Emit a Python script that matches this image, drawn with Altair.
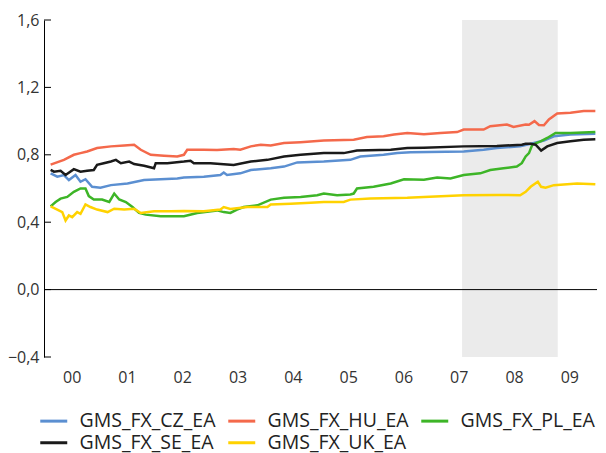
import altair as alt
import pandas as pd

series_names = ["GMS_FX_CZ_EA", "GMS_FX_HU_EA", "GMS_FX_PL_EA", "GMS_FX_SE_EA", "GMS_FX_UK_EA"]
series_colors = ["#5B8FD1", "#F4694B", "#3DB527", "#1A1A1A", "#FFD200"]

cz_t = [2000.12, 2000.24, 2000.36, 2000.45, 2000.57, 2000.66, 2000.75, 2000.87, 2001.02, 2001.21,
        2001.51, 2001.81, 2002.11, 2002.41, 2002.53, 2002.89, 2003.19, 2003.25, 2003.31, 2003.55,
        2003.74, 2004.10, 2004.34, 2004.58, 2004.82, 2005.06, 2005.54, 2005.72, 2006.14, 2006.39,
        2006.63, 2007.59, 2007.95, 2008.19, 2008.61, 2008.86, 2009.04, 2009.22, 2009.52, 2009.97]
cz_v = [0.69, 0.67, 0.68, 0.65, 0.68, 0.64, 0.655, 0.61, 0.605, 0.62,
        0.63, 0.65, 0.655, 0.66, 0.665, 0.67, 0.68, 0.695, 0.68, 0.69,
        0.71, 0.72, 0.73, 0.755, 0.758, 0.76, 0.77, 0.79, 0.80, 0.81,
        0.815, 0.82, 0.83, 0.84, 0.85, 0.87, 0.885, 0.91, 0.92, 0.925]

hu_t = [2000.12, 2000.36, 2000.54, 2000.66, 2000.78, 2000.96, 2001.21, 2001.45, 2001.63, 2001.75,
        2001.93, 2002.17, 2002.41, 2002.53, 2002.59, 2002.89, 2003.13, 2003.43, 2003.55, 2003.74,
        2003.92, 2004.10, 2004.34, 2004.64, 2005.06, 2005.60, 2005.84, 2006.14, 2006.33, 2006.57,
        2006.87, 2007.17, 2007.47, 2007.59, 2007.95, 2008.07, 2008.37, 2008.49, 2008.71, 2008.77,
        2008.87, 2008.95, 2009.04, 2009.13, 2009.28, 2009.52, 2009.76, 2009.97]
hu_v = [0.742, 0.77, 0.80, 0.81, 0.82, 0.84, 0.85, 0.855, 0.86, 0.83,
        0.80, 0.795, 0.79, 0.80, 0.83, 0.83, 0.828, 0.835, 0.83, 0.85,
        0.86, 0.855, 0.87, 0.875, 0.885, 0.89, 0.905, 0.91, 0.92, 0.93,
        0.922, 0.93, 0.935, 0.95, 0.95, 0.97, 0.98, 0.965, 0.98, 0.978,
        1.0, 0.977, 0.975, 1.01, 1.045, 1.05, 1.06, 1.06]

pl_t = [2000.12, 2000.21, 2000.30, 2000.42, 2000.54, 2000.66, 2000.75, 2000.81, 2000.90, 2001.05,
        2001.18, 2001.27, 2001.36, 2001.48, 2001.60, 2001.72, 2001.84, 2002.11, 2002.35, 2002.53,
        2002.77, 2003.13, 2003.25, 2003.37, 2003.49, 2003.61, 2003.86, 2004.10, 2004.34, 2004.64,
        2004.94, 2005.06, 2005.30, 2005.54, 2005.60, 2005.66, 2005.96, 2006.27, 2006.51, 2006.87,
        2007.11, 2007.35, 2007.59, 2007.89, 2008.07, 2008.31, 2008.55, 2008.64, 2008.71, 2008.77,
        2008.83, 2008.98, 2009.10, 2009.25, 2009.52, 2009.97]
pl_v = [0.494, 0.52, 0.54, 0.55, 0.58, 0.60, 0.60, 0.555, 0.535, 0.535,
        0.52, 0.57, 0.535, 0.52, 0.49, 0.455, 0.445, 0.435, 0.435, 0.435,
        0.455, 0.47, 0.46, 0.455, 0.475, 0.49, 0.50, 0.534, 0.545, 0.55,
        0.56, 0.57, 0.56, 0.565, 0.57, 0.60, 0.61, 0.63, 0.655, 0.652,
        0.665, 0.66, 0.68, 0.69, 0.71, 0.72, 0.73, 0.75, 0.79, 0.81,
        0.86, 0.88, 0.90, 0.93, 0.93, 0.935]

se_t = [2000.12, 2000.18, 2000.30, 2000.39, 2000.54, 2000.66, 2000.78, 2000.90, 2000.96, 2001.08,
        2001.21, 2001.30, 2001.39, 2001.54, 2001.63, 2001.81, 2001.99, 2002.02, 2002.23, 2002.53,
        2002.65, 2002.71, 2003.01, 2003.43, 2003.74, 2004.04, 2004.34, 2004.64, 2005.06, 2005.42,
        2005.66, 2006.27, 2006.57, 2006.87, 2007.59, 2008.19, 2008.64, 2008.71, 2008.80, 2008.89,
        2008.99, 2009.10, 2009.28, 2009.52, 2009.76, 2009.97]
se_v = [0.71, 0.70, 0.705, 0.68, 0.715, 0.70, 0.705, 0.71, 0.74, 0.75,
        0.76, 0.77, 0.75, 0.76, 0.745, 0.735, 0.72, 0.75, 0.75, 0.76,
        0.765, 0.75, 0.75, 0.74, 0.76, 0.77, 0.79, 0.80, 0.81, 0.81,
        0.825, 0.83, 0.84, 0.842, 0.85, 0.852, 0.86, 0.865, 0.865, 0.86,
        0.825, 0.85, 0.87, 0.88, 0.89, 0.892]

uk_t = [2000.12, 2000.24, 2000.33, 2000.39, 2000.45, 2000.51, 2000.60, 2000.66, 2000.75, 2000.84,
        2000.96, 2001.15, 2001.27, 2001.45, 2001.63, 2001.75, 2001.99, 2002.29, 2002.53, 2002.89,
        2003.19, 2003.25, 2003.37, 2003.68, 2004.04, 2004.10, 2004.46, 2004.82, 2005.06, 2005.42,
        2005.54, 2005.90, 2006.57, 2006.87, 2007.59, 2008.19, 2008.61, 2008.71, 2008.80, 2008.93,
        2008.99, 2009.07, 2009.22, 2009.46, 2009.64, 2009.97]
uk_v = [0.494, 0.475, 0.46, 0.41, 0.44, 0.43, 0.46, 0.45, 0.505, 0.49,
        0.475, 0.46, 0.48, 0.475, 0.48, 0.455, 0.465, 0.465, 0.467, 0.465,
        0.475, 0.49, 0.478, 0.49, 0.49, 0.505, 0.51, 0.515, 0.52, 0.52,
        0.534, 0.54, 0.545, 0.55, 0.56, 0.562, 0.56, 0.58, 0.61, 0.64,
        0.61, 0.605, 0.62, 0.625, 0.63, 0.625]

y_ticks = [-0.4, 0.0, 0.4, 0.8, 1.2, 1.6]
x_ticks = [2000.5, 2001.5, 2002.5, 2003.5, 2004.5, 2005.5, 2006.5, 2007.5, 2008.5, 2009.5]
shade_start = [2007.56]
shade_end = [2009.29]

series_t = [cz_t, hu_t, pl_t, se_t, uk_t]
series_v = [cz_v, hu_v, pl_v, se_v, uk_v]
rows = []
for name, ts, vs in zip(series_names, series_t, series_v):
    for t, v in zip(ts, vs):
        rows.append({"series": name, "t": t, "v": v})
df = pd.DataFrame(rows)

FONT = "Open Sans"
x_scale = alt.Scale(domain=[2000, 2010], nice=False, zero=False)
y_scale = alt.Scale(domain=[-0.4, 1.6], nice=False, zero=False)
x_axis = alt.Axis(values=x_ticks, labelExpr="substring(toString(floor(datum.value)), 2)",
                  domain=False, ticks=False, grid=False, title=None, labelFont=FONT,
                  labelFontSize=16, labelColor="#333333", labelPadding=12)
y_axis = alt.Axis(values=y_ticks, labelExpr="replace(format(datum.value, '.1f'), '.', ',')",
                  domain=True, domainColor="black", ticks=False,
                  grid=False, title=None, labelFont=FONT, labelFontSize=16,
                  labelColor="#333333", labelPadding=5)

shade = alt.Chart(pd.DataFrame({"x": shade_start, "x2": shade_end})).mark_rect(
    color="#EBEBEB").encode(
    x=alt.X("x:Q", scale=x_scale, axis=x_axis),
    x2="x2:Q",
    y=alt.Y(datum=-0.4, scale=y_scale, axis=y_axis),
    y2=alt.datum(1.6),
)

zero = alt.Chart(pd.DataFrame({"z": [0.0]})).mark_rule(color="black", strokeWidth=1).encode(
    y=alt.Y("z:Q", scale=y_scale, axis=y_axis)
)

# inward-pointing y ticks
yticks = alt.Chart(pd.DataFrame({"tick": y_ticks})).mark_rule(color="black", strokeWidth=1).encode(
    y=alt.Y("tick:Q", scale=y_scale, axis=y_axis),
    x=alt.value(0),
    x2=alt.value(7),
)

lines = alt.Chart(df).mark_line(strokeWidth=2.5).encode(
    x=alt.X("t:Q", scale=x_scale, axis=x_axis),
    y=alt.Y("v:Q", scale=y_scale, axis=y_axis),
    color=alt.Color("series:N",
                    scale=alt.Scale(domain=series_names, range=series_colors),
                    legend=alt.Legend(title=None, orient="none", direction="horizontal",
                                      legendX=0, legendY=391,
                                      columns=3, symbolType="M-2,0H2", symbolSize=182,
                                      symbolStrokeWidth=3, labelFont=FONT, labelFontSize=19.5,
                                      labelColor="#222222", columnPadding=6, rowPadding=1,
                                      labelOffset=16, padding=0)),
)

chart = alt.layer(shade, zero, yticks, lines).properties(
    width=553, height=337,
    autosize=alt.AutoSizeParams(type="none"),
    padding={"left": 36, "top": 12, "right": 1, "bottom": 98},
).configure_view(stroke=None)

chart.save("out.html", embed_options={"renderer": "svg", "actions": False})
